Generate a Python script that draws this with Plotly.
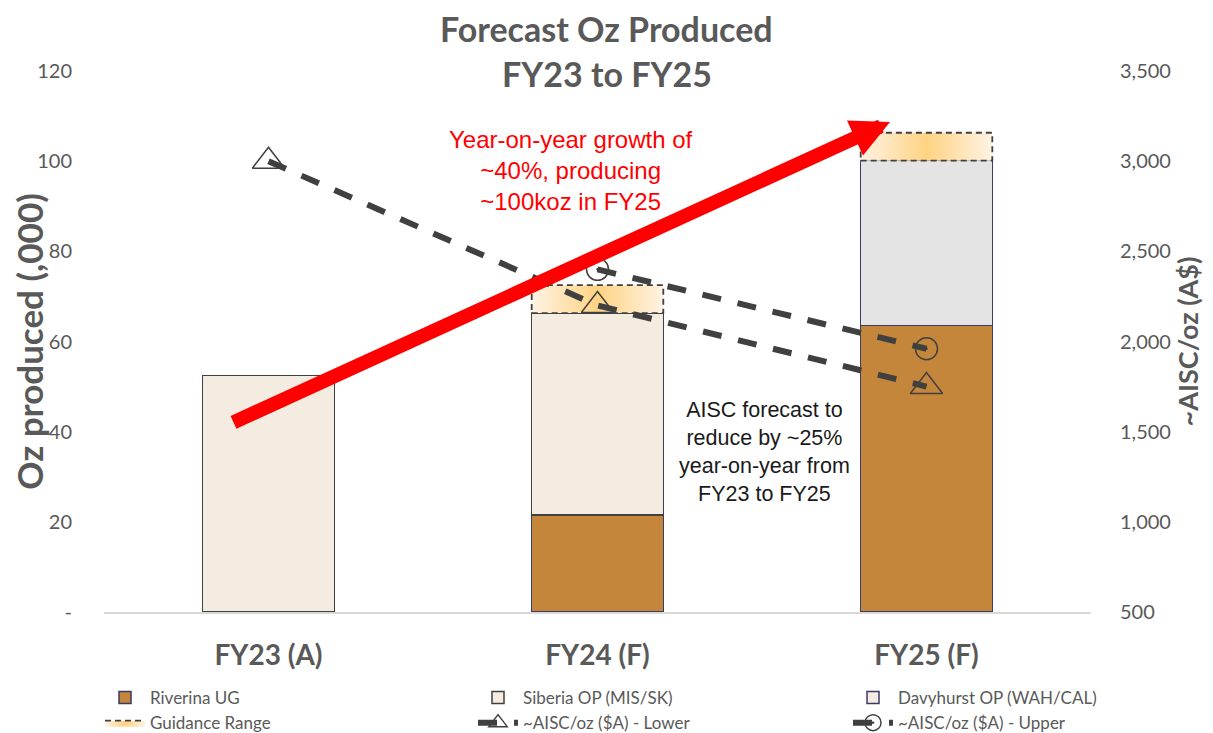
import plotly.graph_objects as go

categories = ["FY23 (A)", "FY24 (F)", "FY25 (F)"]
riverina = [None, 21.5, 63.5]
siberia = [52.5, 44.8, None]
davyhurst = [None, None, 36.6]
guid_low = [None, 66.3, 100.1]
guid_high = [None, 72.5, 106.3]
aisc_lower = [3000, 2200, 1750]
aisc_upper = [None, 2400, 1960]
left_ticks = [0, 20, 40, 60, 80, 100, 120]
left_ticktext = ["-", "20", "40", "60", "80", "100", "120"]

xpos = list(range(len(categories)))
BW = 0.4
GREY = "#595959"
CAL = "Lato, 'Open Sans', sans-serif"
ARI = "'Liberation Sans', Arial, sans-serif"

# page is drawn with an 8px body margin -> compensate
OFF = 8
W, H = 1213 - OFF, 733 - OFF
L, R, T, B = 104 - OFF, 122, 71 - OFF, 121
PW, PH = W - L - R, H - T - B


def px(xp):
    return (xp - OFF - L) / PW


def py(yp):
    return (H - B - (yp - OFF)) / PH


fig = go.Figure()
fig.add_trace(go.Bar(x=xpos, y=riverina, width=BW, name="Riverina UG", legend="legend",
                     marker=dict(color="#C4863A", line=dict(color="#3D3A66", width=1.5))))
fig.add_trace(go.Bar(x=xpos, y=siberia, width=BW, name="Siberia OP (MIS/SK)", legend="legend2",
                     marker=dict(color="#F4ECE1", line=dict(color="#404040", width=1.5))))
fig.add_trace(go.Bar(x=xpos, y=davyhurst, width=BW, name="Davyhurst OP (WAH/CAL)", legend="legend3",
                     marker=dict(color=["#F4ECE1", "#F4ECE1", "#E4E4E4"],
                                 line=dict(color="#3D3A66", width=1.5))))

first = True
for i, (lo, hi) in enumerate(zip(guid_low, guid_high)):
    if lo is None:
        continue
    x0, x1 = xpos[i] - BW / 2, xpos[i] + BW / 2
    fig.add_trace(go.Scatter(
        x=[x0, x1, x1, x0, x0], y=[lo, lo, hi, hi, lo], mode="lines",
        fill="toself", name="Guidance Range", legendgroup="g", showlegend=first,
        legend="legend",
        line=dict(color="#404040", width=1.8, dash="6px,4px"),
        fillgradient=dict(type="horizontal",
                          colorscale=[[0, "#FFF3E4"], [0.5, "#FFD383"], [1, "#FFF3E4"]]),
        hoverinfo="skip"))
    first = False

fig.add_trace(go.Scatter(x=xpos, y=aisc_lower, yaxis="y2", mode="lines+markers",
                         name="~AISC/oz ($A) - Lower", legend="legend2",
                         line=dict(color="#404040", width=6, dash="19px,17px"),
                         marker=dict(symbol="triangle-up-open", size=28,
                                     color="#404040", line=dict(width=1.5, color="#404040"))))
fig.add_trace(go.Scatter(x=xpos, y=aisc_upper, yaxis="y2", mode="lines+markers",
                         name="~AISC/oz ($A) - Upper", legend="legend3",
                         line=dict(color="#404040", width=6, dash="19px,17px"),
                         marker=dict(symbol="circle-open-dot", size=22,
                                     color="#404040", line=dict(width=1.5, color="#404040"))))

# horizontal legends forced to wrap -> one column each
leg_common = dict(orientation="h", xref="container", yref="container", xanchor="left",
                  yanchor="top", y=1 - (680 - OFF) / H, traceorder="normal",
                  entrywidth=500, entrywidthmode="pixels",
                  font=dict(size=17, color=GREY, family=CAL), bgcolor="rgba(0,0,0,0)",
                  tracegroupgap=0, itemwidth=40)

fig.update_layout(
    width=W, height=H,
    margin=dict(l=L, r=R, t=T, b=B),
    paper_bgcolor="white", plot_bgcolor="white",
    barmode="stack",
    font=dict(family=CAL, color=GREY),
    xaxis=dict(range=[-0.5, 2.5], tickvals=xpos, ticktext=["<b>%s</b>" % c for c in categories],
               tickfont=dict(size=28, color=GREY, family=CAL), showgrid=False, zeroline=False,
               showline=True, linecolor="#D9D9D9", linewidth=1.5, automargin=False,
               ticks="outside", ticklen=18, tickcolor="rgba(0,0,0,0)"),
    yaxis=dict(range=[0, 120], tickvals=left_ticks, ticktext=left_ticktext, automargin=False,
               tickfont=dict(size=20, color=GREY, family=CAL), showgrid=False, zeroline=False,
               ticks="outside", ticklen=27, tickcolor="rgba(0,0,0,0)",
               title=dict(text="<b>Oz produced (,000)</b>", font=dict(size=35, color=GREY, family=CAL),
                          standoff=7)),
    yaxis2=dict(range=[500, 3500], dtick=500, tickformat=",", overlaying="y", side="right",
                tickfont=dict(size=20, color=GREY, family=CAL), showgrid=False, zeroline=False,
                ticks="outside", ticklen=24, tickcolor="rgba(0,0,0,0)", automargin=False,
                title=dict(text="<b>~AISC/oz (A$)</b>", font=dict(size=27, color=GREY, family=CAL),
                           standoff=8)),
    legend=dict(x=(150 - OFF - 50) / W, **leg_common),
    legend2=dict(x=(523 - OFF - 50) / W, **leg_common),
    legend3=dict(x=(898 - OFF - 50) / W, **leg_common),
    showlegend=True,
)

# title lines
fig.add_annotation(xref="paper", yref="paper", x=px(606.5), y=py(28),
                   text="<b>Forecast Oz Produced</b>", showarrow=False,
                   font=dict(size=34, color=GREY, family=CAL), xanchor="center", yanchor="middle")
fig.add_annotation(xref="paper", yref="paper", x=px(606.5), y=py(73),
                   text="<b>FY23 to FY25</b>", showarrow=False,
                   font=dict(size=34, color=GREY, family=CAL), xanchor="center", yanchor="middle")

fig.add_annotation(xref="paper", yref="paper", x=px(890), y=py(122),
                   ax=232 - 890, ay=423 - 122, axref="pixel", ayref="pixel",
                   showarrow=True, arrowhead=2, arrowsize=0.55, arrowwidth=14,
                   arrowcolor="#FF0000", text="", standoff=0)
fig.add_annotation(xref="paper", yref="paper", x=px(571), y=py(170),
                   text="Year-on-year growth of<br>~40%, producing<br>~100koz in FY25",
                   showarrow=False, font=dict(size=24, color="#FF0000", family=ARI),
                   xanchor="center", yanchor="middle", align="center")
fig.add_annotation(xref="paper", yref="paper", x=px(764), y=py(452),
                   text="AISC forecast to<br>reduce by ~25%<br>year-on-year from<br>FY23 to FY25",
                   showarrow=False, font=dict(size=21.5, color="#1A1A1A", family=ARI),
                   xanchor="center", yanchor="middle", align="center")

fig.write_html("out.html")
